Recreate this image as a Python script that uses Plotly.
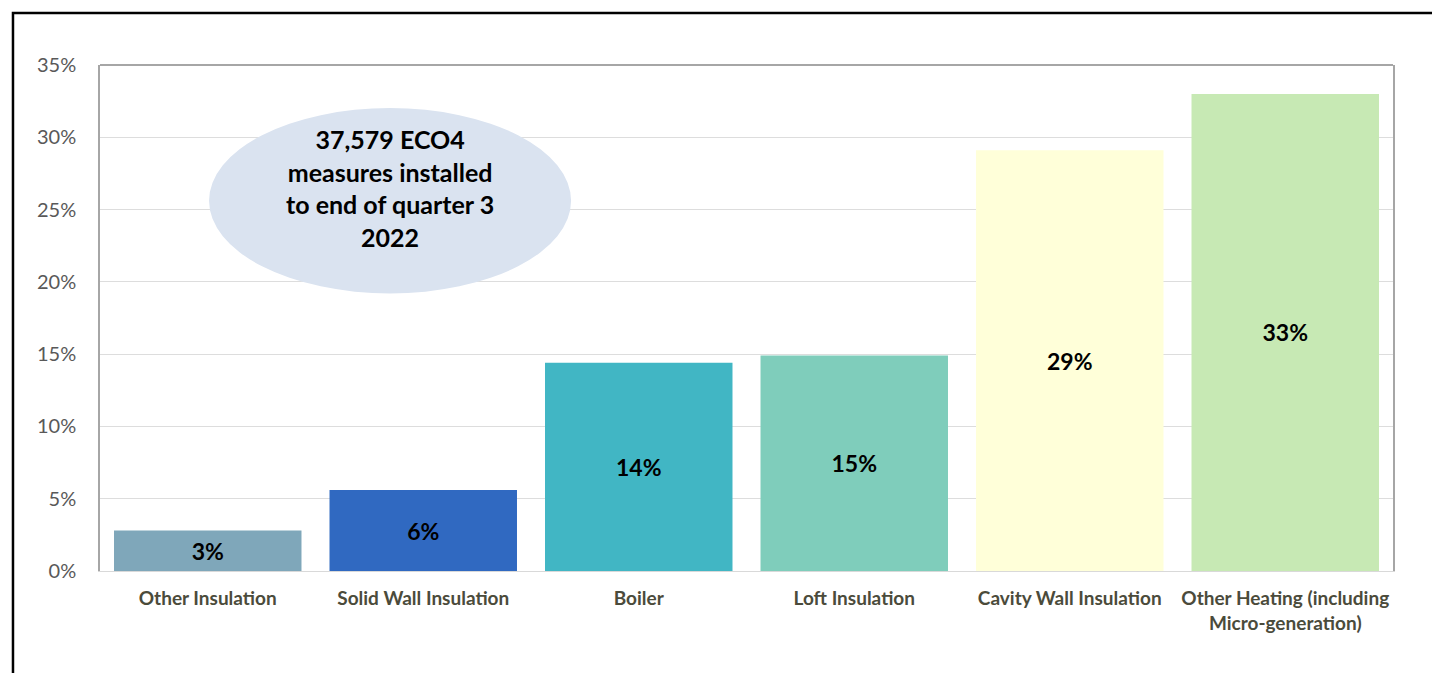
import plotly.graph_objects as go

categories = ["Other Insulation", "Solid Wall Insulation", "Boiler", "Loft Insulation",
              "Cavity Wall Insulation", "Other Heating (including<br>Micro-generation)"]
shares = [0.028, 0.056, 0.144, 0.149, 0.291, 0.330]
bar_labels = ["3%", "6%", "14%", "15%", "29%", "33%"]
bar_colors = ["#7FA7BA", "#3069C1", "#41B6C4", "#7FCDBB", "#FFFFD9", "#C7E9B4"]
y_ticks = [0, 0.05, 0.10, 0.15, 0.20, 0.25, 0.30, 0.35]
y_tick_text = ["0%", "5%", "10%", "15%", "20%", "25%", "30%", "35%"]
callout = "37,579 ECO4<br>measures installed<br>to end of quarter 3<br>2022"

FONT = "Lato, 'Open Sans', sans-serif"

fig = go.Figure(go.Bar(
    x=categories, y=shares, marker=dict(color=bar_colors, line=dict(width=0)),
    text=bar_labels, textposition="inside", insidetextanchor="middle",
    textfont=dict(family=FONT, size=23, color="#000000", weight="bold"),
    width=0.87, hoverinfo="skip",
))

fig.update_layout(
    width=1432, height=673,
    margin=dict(l=100, r=39, t=65, b=102),
    paper_bgcolor="white", plot_bgcolor="white",
    showlegend=False,
    font=dict(family=FONT),
    xaxis=dict(
        showgrid=False, showline=True, linecolor="#D9D9D9", linewidth=1,
        tickfont=dict(family=FONT, size=19, color="#4B4B3B", weight="bold"),
        ticks="", ticklabelstandoff=10, range=[-0.5, 5.5],
    ),
    yaxis=dict(
        range=[0, 0.35], tickvals=y_ticks, ticktext=y_tick_text,
        showgrid=True, gridcolor="#DDDDDD", gridwidth=1,
        showline=True, linecolor="#A6A6A6", linewidth=1.5, mirror=True,
        zeroline=False, ticks="", ticklabelstandoff=18,
        tickfont=dict(family=FONT, size=20, color="#595959"),
    ),
    shapes=[
        dict(type="line", xref="paper", yref="paper", x0=0, x1=1, y0=1, y1=1,
             line=dict(color="#A6A6A6", width=2)),
        dict(type="circle", xref="x", yref="y", x0=0.006, x1=1.686, y0=0.192, y1=0.3202,
             fillcolor="#DAE3F0", line=dict(width=0), layer="above"),
        dict(type="path", xref="paper", yref="paper",
             path="M -0.0673,-0.4 L -0.0673,1.1028 L 1.3,1.1028",
             line=dict(color="black", width=2.5), fillcolor="rgba(0,0,0,0)"),
    ],
    annotations=[
        dict(x=0.846, y=0.2649, xref="x", yref="y", text=callout, showarrow=False,
             font=dict(family=FONT, size=25, color="#000000", weight="bold"),
             align="center"),
    ],
)

fig.write_html(
    "out.html",
    config={"displayModeBar": False},
    post_script="document.body.style.margin='0';document.body.style.overflow='hidden';"
                "document.documentElement.style.overflow='hidden';",
)
